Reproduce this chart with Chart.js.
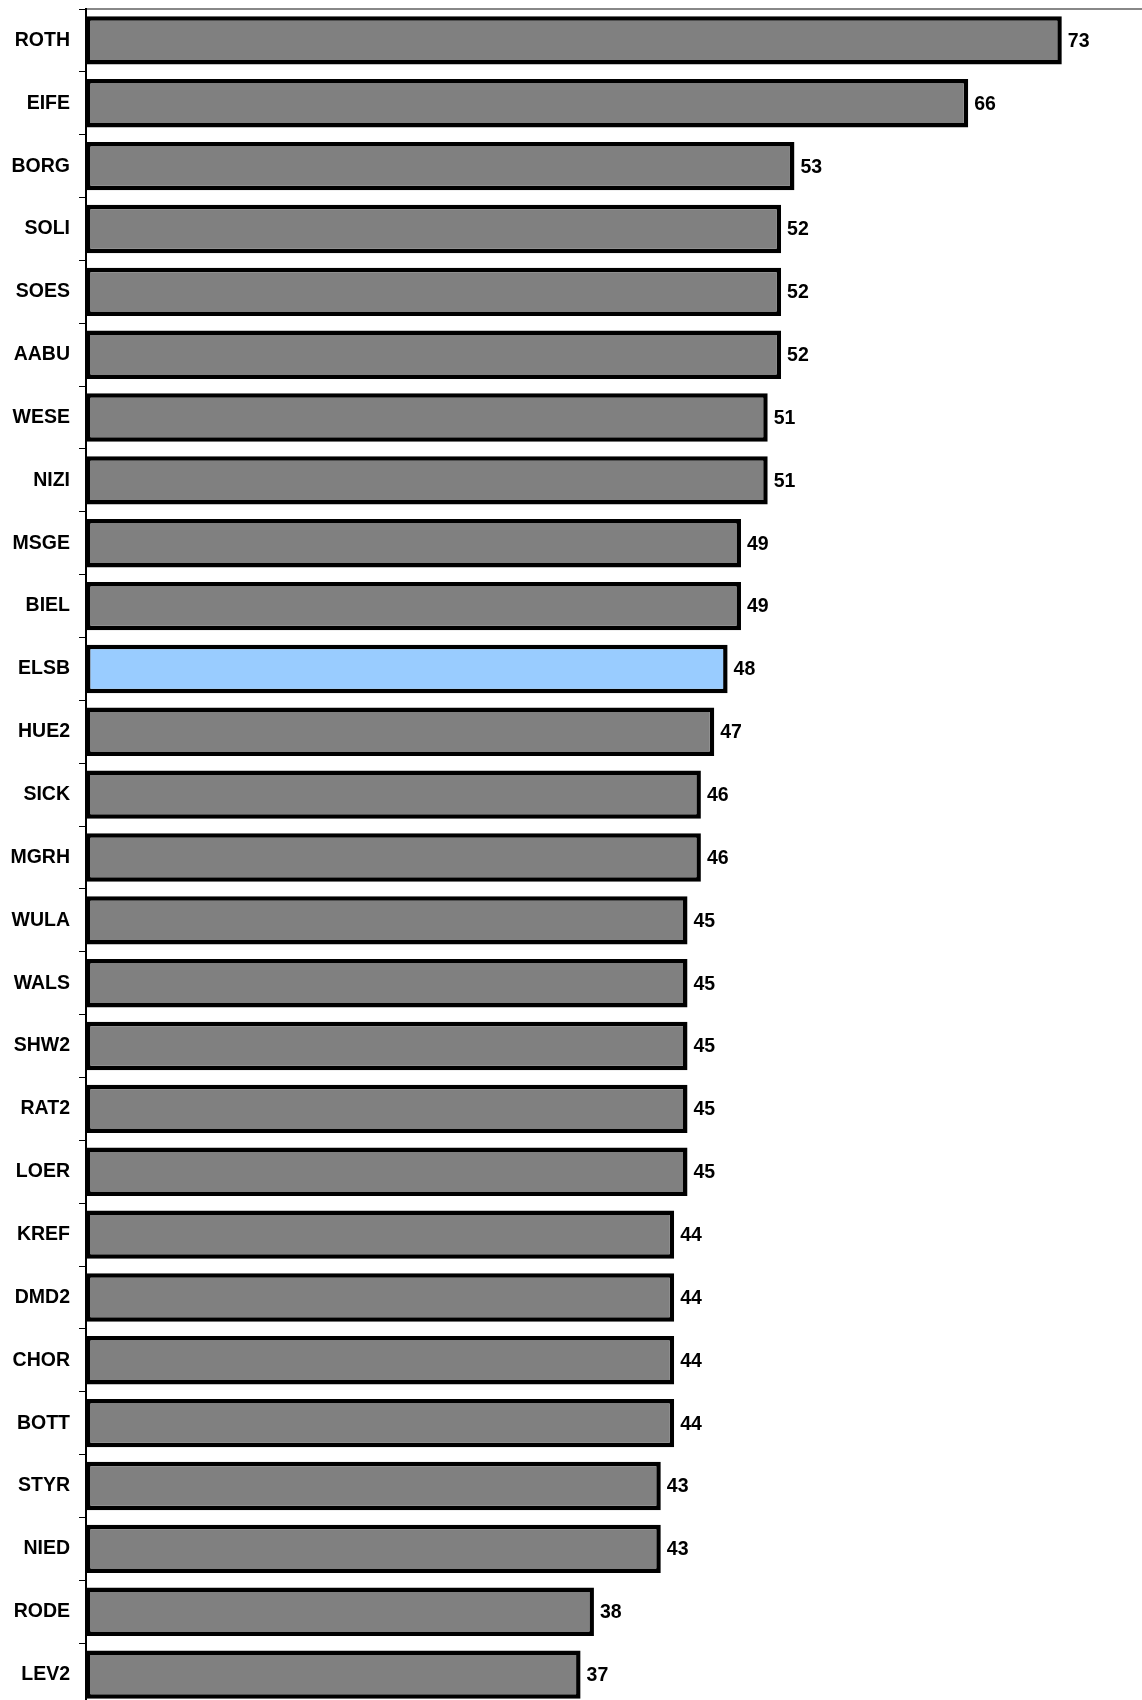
<!DOCTYPE html>
<html>
<head>
<meta charset="utf-8">
<script src="https://cdn.jsdelivr.net/npm/chart.js@4"></script>
<style>
  html, body { margin: 0; padding: 0; background: #ffffff; overflow: hidden; }
  #wrap { width: 1142px; height: 1706px; position: relative; }
</style>
</head>
<body>
<div id="wrap"><canvas id="chart"></canvas></div>
<script>
// Station codes, ranked from highest to lowest
const stations = ['ROTH', 'EIFE', 'BORG', 'SOLI', 'SOES', 'AABU', 'WESE', 'NIZI', 'MSGE', 'BIEL',
                  'ELSB', 'HUE2', 'SICK', 'MGRH', 'WULA', 'WALS', 'SHW2', 'RAT2', 'LOER', 'KREF',
                  'DMD2', 'CHOR', 'BOTT', 'STYR', 'NIED', 'RODE', 'LEV2'];
const values = [73, 66, 53, 52, 52, 52, 51, 51, 49, 49,
                48, 47, 46, 46, 45, 45, 45, 45, 45, 44,
                44, 44, 44, 43, 43, 38, 37];
// Station shown in a highlight colour
const highlighted = 'ELSB';

const FONT = '"Liberation Sans", Arial, sans-serif';

const barColors = stations.map(s => s === highlighted ? '#99CCFF' : '#808080');

// Writes each bar's value just past its end
const valueLabels = {
  id: 'valueLabels',
  afterDatasetsDraw(chart) {
    const ctx = chart.ctx;
    const meta = chart.getDatasetMeta(0);
    ctx.save();
    ctx.font = 'bold 19.5px ' + FONT;
    ctx.fillStyle = '#000000';
    ctx.textAlign = 'left';
    ctx.textBaseline = 'middle';
    meta.data.forEach((bar, i) => {
      ctx.fillText(String(chart.data.datasets[0].data[i]), bar.x + 6, bar.y + 1);
    });
    ctx.restore();
  }
};

new Chart(document.getElementById('chart'), {
  type: 'bar',
  data: {
    labels: stations,
    datasets: [{
      data: values,
      backgroundColor: barColors,
      borderColor: '#000000',
      borderWidth: 4.5,
      borderSkipped: false,
      categoryPercentage: 1,
      barPercentage: 0.77
    }]
  },
  options: {
    indexAxis: 'y',
    responsive: true,
    maintainAspectRatio: false,
    animation: false,
    layout: { padding: { top: 9, left: 0, right: 0, bottom: 0 } },
    plugins: {
      legend: { display: false },
      tooltip: { enabled: false }
    },
    scales: {
      x: {
        position: 'top',
        min: 0,
        max: 79,
        ticks: { display: false },
        grid: { display: false, drawTicks: false },
        border: { display: true, color: '#888888', width: 2 },
        afterFit(scale) {
          scale.height = 0;
          scale.paddingLeft = 0;
          scale.paddingRight = 0;
        }
      },
      y: {
        position: 'left',
        ticks: {
          color: '#000000',
          padding: 9,
          font: { family: FONT, size: 19.5, weight: 'bold' }
        },
        grid: {
          drawOnChartArea: false,
          drawTicks: true,
          tickLength: 7,
          color: '#000000',
          lineWidth: 1,
          offset: true
        },
        border: { display: true, color: '#000000', width: 2 },
        afterFit(scale) {
          scale.width = 86;
          scale.paddingTop = 0;
          scale.paddingBottom = 0;
        }
      }
    }
  },
  plugins: [valueLabels]
});
</script>
</body>
</html>
